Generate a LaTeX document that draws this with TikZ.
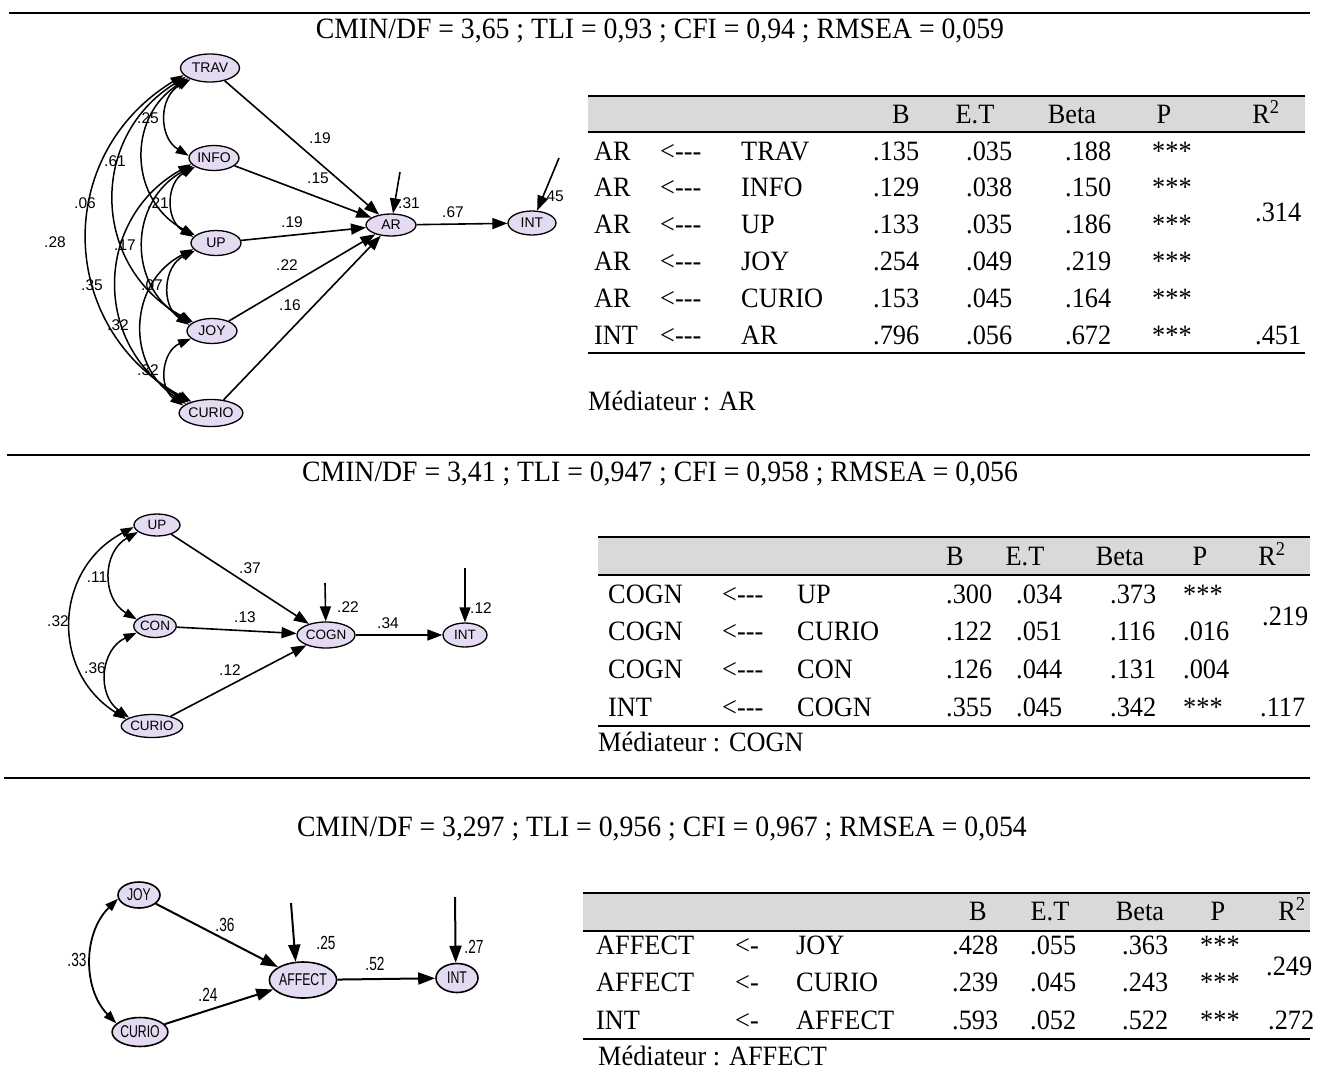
\documentclass[tikz,border=0pt]{standalone}
\usepackage{fontspec}
\setmainfont{Liberation Serif}[FakeStretch=0.94]
\newfontfamily\amossans{Liberation Sans}
\newfontfamily\amosnarrow{Liberation Sans}[FakeStretch=0.72]
\usetikzlibrary{arrows.meta,shapes.geometric}
\definecolor{ellfill}{RGB}{228,218,242}
\definecolor{headgray}{RGB}{217,217,217}
\newcommand{\tabfont}{\fontsize{28}{33}\selectfont}
\tikzset{
  var/.style={ellipse,draw,line width=1.3pt,fill=ellfill,inner sep=0pt},
  varA/.style={var,font=\amossans\fontsize{14}{14}\selectfont},
  varB/.style={var,font=\amossans\fontsize{13.5}{13.5}\selectfont},
  varC/.style={var,line width=1.6pt,font=\amosnarrow\fontsize{17}{17}\selectfont},
  reg/.style={line width=1.6pt,-{Triangle[length=15pt,width=11pt]}},
  regC/.style={line width=2pt,-{Triangle[length=17pt,width=12pt]}},
  cov/.style={line width=1.5pt,{Triangle[length=13pt,width=9pt]}-{Triangle[length=13pt,width=9pt]},bend right=60,looseness=1.2},
  labA/.style={inner sep=0pt,font=\amossans\fontsize{15.5}{15.5}\selectfont},
  labC/.style={inner sep=0pt,font=\amosnarrow\fontsize{19}{19}\selectfont},
  cell/.style={anchor=base west,inner sep=0pt,font=\tabfont},
  head/.style={anchor=base,inner sep=0pt,font=\tabfont},
  fitline/.style={anchor=base,inner sep=0pt,font=\fontsize{29.5}{34}\selectfont},
}

\begin{document}
\begin{tikzpicture}[x=1pt,y=-1pt]
\path[use as bounding box] (0,0) rectangle (1320,1074);
% section rules and fit indices
\draw[line width=2.5pt] (9,13) -- (1310,13);
\draw[line width=2pt] (7,455) -- (1310,455);
\draw[line width=2.5pt] (4,778) -- (1310,778);
\node[fitline] (fit1) at (660,38) {CMIN/DF = 3,65 ; TLI = 0,93 ; CFI = 0,94 ; RMSEA = 0,059};
\node[fitline] (fit2) at (660,481) {CMIN/DF = 3,41 ; TLI = 0,947 ; CFI = 0,958 ; RMSEA = 0,056};
\node[fitline] (fit3) at (662,836) {CMIN/DF = 3,297 ; TLI = 0,956 ; CFI = 0,967 ; RMSEA = 0,054};

% model 1 : mediator AR
\node[varA,minimum width=59pt,minimum height=28pt] (TRAV) at (210,68) {TRAV};
\node[varA,minimum width=50pt,minimum height=25pt] (INFO) at (214,158) {INFO};
\node[varA,minimum width=50pt,minimum height=25pt] (UP) at (216,243) {UP};
\node[varA,minimum width=50pt,minimum height=25pt] (JOY) at (212,331) {JOY};
\node[varA,minimum width=62pt,minimum height=27pt] (CURIO) at (211,413) {CURIO};
\node[varA,minimum width=50pt,minimum height=22pt] (AR) at (391,225) {AR};
\node[varA,minimum width=48pt,minimum height=24pt] (INT) at (532,223) {INT};
\node[labA] (cTA) at (320,138) {.19};
\node[labA] (cIA) at (318,178) {.15};
\node[labA] (cUA) at (292,222) {.19};
\node[labA] (cJA) at (287,265) {.22};
\node[labA] (cCA) at (290,305) {.16};
\node[labA] (rAR) at (409,203) {.31};
\node[labA] (cAI) at (453,212) {.67};
\node[labA] (rINT) at (553,196) {.45};
\draw[reg] (TRAV) -- (AR);
\draw[reg] (INFO) -- (AR);
\draw[reg] (UP) -- (AR);
\draw[reg] (JOY) -- (AR);
\draw[reg] (CURIO) -- (AR);
\draw[reg] (AR) -- (INT);
\coordinate (eAR) at (400,172);
\coordinate (eINT) at (559,158);
\draw[reg] (eAR) -- (AR);
\draw[reg] (eINT) -- (INT);
\draw[cov] (TRAV.210) to (INFO.175);
\draw[cov] (TRAV.205) to (UP.160);
\draw[cov] (TRAV.200) to (JOY.155);
\draw[cov] (TRAV.195) to (CURIO.150);
\draw[cov] (INFO.205) to (UP.165);
\draw[cov] (INFO.200) to (JOY.160);
\draw[cov] (INFO.195) to (CURIO.155);
\draw[cov] (UP.200) to (JOY.165);
\draw[cov] (UP.195) to (CURIO.160);
\draw[cov] (JOY.200) to (CURIO.165);
\node[labA] (kTI) at (148,118) {.25};
\node[labA] (kTU) at (115,161) {.61};
\node[labA] (kTJ) at (85,203) {.06};
\node[labA] (kTC) at (55,242) {.28};
\node[labA] (kIU) at (158,203) {.21};
\node[labA] (kIJ) at (125,245) {.17};
\node[labA] (kIC) at (92,285) {.35};
\node[labA] (kUJ) at (152,285) {.07};
\node[labA] (kUC) at (118,325) {.32};
\node[labA] (kJC) at (148,370) {.32};

% table 1
\fill[headgray] (588,97) rectangle (1305,131);
\draw[line width=2.5pt] (588,96) -- (1305,96);
\draw[line width=1.5pt] (588,132) -- (1305,132);
\draw[line width=2pt] (588,353) -- (1305,353);
\foreach \h/\hx [count=\k] in {B/901,E.T/975,Beta/1072,P/1164}
  \node[head] (ha-\k) at (\hx,123) {\h};
\node[head] (ha-5) at (1266,123) {R\textsuperscript{2}};
\foreach \dep/\ind/\cb/\cse/\cbeta [count=\i] in {AR/TRAV/.135/.035/.188,AR/INFO/.129/.038/.150,AR/UP/.133/.035/.186,AR/JOY/.254/.049/.219,AR/CURIO/.153/.045/.164,INT/AR/.796/.056/.672}{
  \pgfmathsetmacro{\yb}{160+(\i-1)*36.8}
  \node[cell] (ta-\i-1) at (594,\yb) {\dep};
  \node[cell] (ta-\i-2) at (660,\yb) {<{-}{-}{-}};
  \node[cell] (ta-\i-3) at (741,\yb) {\ind};
  \node[cell] (ta-\i-4) at (873,\yb) {\cb};
  \node[cell] (ta-\i-5) at (966,\yb) {\cse};
  \node[cell] (ta-\i-6) at (1065,\yb) {\cbeta};
  \node[cell] (ta-\i-7) at (1152,\yb) {***};
}
\node[cell] (ra-1) at (1255,221) {.314};
\node[cell] (ra-2) at (1255,344) {.451};
\node[cell] (meda) at (588,410) {Médiateur : AR};

% model 2 : mediator COGN
\node[varB,minimum width=46pt,minimum height=22pt] (UPb) at (157,525) {UP};
\node[varB,minimum width=37pt,minimum height=23pt] (CONb) at (155,626) {CON};
\node[varB,minimum width=56pt,minimum height=23pt] (CURIOb) at (152,726) {CURIO};
\node[varB,minimum width=58pt,minimum height=26pt] (COGN) at (326,635) {COGN};
\node[varB,minimum width=44pt,minimum height=24pt] (INTb) at (465,635) {INT};
\draw[reg] (UPb) -- (COGN);
\draw[reg] (CONb) -- (COGN);
\draw[reg] (CURIOb) -- (COGN);
\draw[reg] (COGN) -- (INTb);
\coordinate (eCOGN) at (325,583);
\coordinate (eINTb) at (465,568);
\draw[reg] (eCOGN) -- (COGN);
\draw[reg] (eINTb) -- (INTb);
\draw[cov] (UPb.200) to (CONb.160);
\draw[cov] (UPb.185) to (CURIOb.165);
\draw[cov] (CONb.200) to (CURIOb.160);
\node[labA] (cUC) at (250,568) {.37};
\node[labA] (cNC) at (245,617) {.13};
\node[labA] (cRC) at (230,670) {.12};
\node[labA] (rCOGN) at (348,607) {.22};
\node[labA] (cCI) at (388,623) {.34};
\node[labA] (rINTb) at (481,608) {.12};
\node[labA] (kUN) at (97,577) {.11};
\node[labA] (kUR) at (58,621) {.32};
\node[labA] (kNR) at (95,668) {.36};

% table 2
\fill[headgray] (598,538) rectangle (1310,574);
\draw[line width=2.5pt] (598,537) -- (1310,537);
\draw[line width=1.5pt] (598,575) -- (1310,575);
\draw[line width=2pt] (598,726) -- (1310,726);
\foreach \h/\hx [count=\k] in {B/955,E.T/1025,Beta/1120,P/1200}
  \node[head] (hb-\k) at (\hx,565) {\h};
\node[head] (hb-5) at (1272,565) {R\textsuperscript{2}};
\foreach \dep/\ind/\cb/\cse/\cbeta/\cp [count=\i] in {COGN/UP/.300/.034/.373/***,COGN/CURIO/.122/.051/.116/.016,COGN/CON/.126/.044/.131/.004,INT/COGN/.355/.045/.342/***}{
  \pgfmathsetmacro{\yb}{603+(\i-1)*37.7}
  \node[cell] (tb-\i-1) at (608,\yb) {\dep};
  \node[cell] (tb-\i-2) at (722,\yb) {<{-}{-}{-}};
  \node[cell] (tb-\i-3) at (797,\yb) {\ind};
  \node[cell] (tb-\i-4) at (946,\yb) {\cb};
  \node[cell] (tb-\i-5) at (1016,\yb) {\cse};
  \node[cell] (tb-\i-6) at (1110,\yb) {\cbeta};
  \node[cell] (tb-\i-7) at (1183,\yb) {\cp};
}
\node[cell] (rb-1) at (1262,625) {.219};
\node[cell] (rb-2) at (1260,716) {.117};
\node[cell] (medb) at (598,751) {Médiateur : COGN};

% model 3 : mediator AFFECT
\node[varC,minimum width=42pt,minimum height=26pt] (JOYc) at (139,895) {JOY};
\node[varC,minimum width=53pt,minimum height=29pt] (CURIOc) at (140,1032) {CURIO};
\node[varC,minimum width=61pt,minimum height=36pt] (AFFECT) at (303,980) {AFFECT};
\node[varC,minimum width=42pt,minimum height=29pt] (INTc) at (457,978) {INT};
\draw[regC] (JOYc) -- (AFFECT);
\draw[regC] (CURIOc) -- (AFFECT);
\draw[regC] (AFFECT) -- (INTc);
\coordinate (eAFF) at (291,903);
\coordinate (eINTc) at (455,897);
\draw[regC] (eAFF) -- (AFFECT.112);
\draw[regC] (eINTc) -- (INTc.95);
\draw[cov,line width=1.8pt,bend right=45,looseness=1] (JOYc.190) to (CURIOc.160);
\node[labC] (cJF) at (225,925) {.36};
\node[labC] (cRF) at (208,995) {.24};
\node[labC] (rAFF) at (326,943) {.25};
\node[labC] (cFI) at (375,964) {.52};
\node[labC] (rINTc) at (474,947) {.27};
\node[labC] (kJR) at (77,960) {.33};

% table 3
\fill[headgray] (583,894) rectangle (1310,930);
\draw[line width=2.5pt] (583,893) -- (1310,893);
\draw[line width=1.5pt] (583,931) -- (1310,931);
\draw[line width=2pt] (583,1039) -- (1310,1039);
\foreach \h/\hx [count=\k] in {B/978,E.T/1050,Beta/1140,P/1218}
  \node[head] (hc-\k) at (\hx,920) {\h};
\node[head] (hc-5) at (1292,920) {R\textsuperscript{2}};
\foreach \dep/\ind/\cb/\cse/\cbeta [count=\i] in {AFFECT/JOY/.428/.055/.363,AFFECT/CURIO/.239/.045/.243,INT/AFFECT/.593/.052/.522}{
  \pgfmathsetmacro{\yb}{954+(\i-1)*37.5}
  \node[cell] (tc-\i-1) at (596,\yb) {\dep};
  \node[cell] (tc-\i-2) at (735,\yb) {<{-}};
  \node[cell] (tc-\i-3) at (796,\yb) {\ind};
  \node[cell] (tc-\i-4) at (952,\yb) {\cb};
  \node[cell] (tc-\i-5) at (1030,\yb) {\cse};
  \node[cell] (tc-\i-6) at (1122,\yb) {\cbeta};
  \node[cell] (tc-\i-7) at (1200,\yb) {***};
}
\node[cell] (rc-1) at (1266,975) {.249};
\node[cell] (rc-2) at (1268,1029) {.272};
\node[cell] (medc) at (598,1065) {Médiateur : AFFECT};
\end{tikzpicture}
\end{document}
